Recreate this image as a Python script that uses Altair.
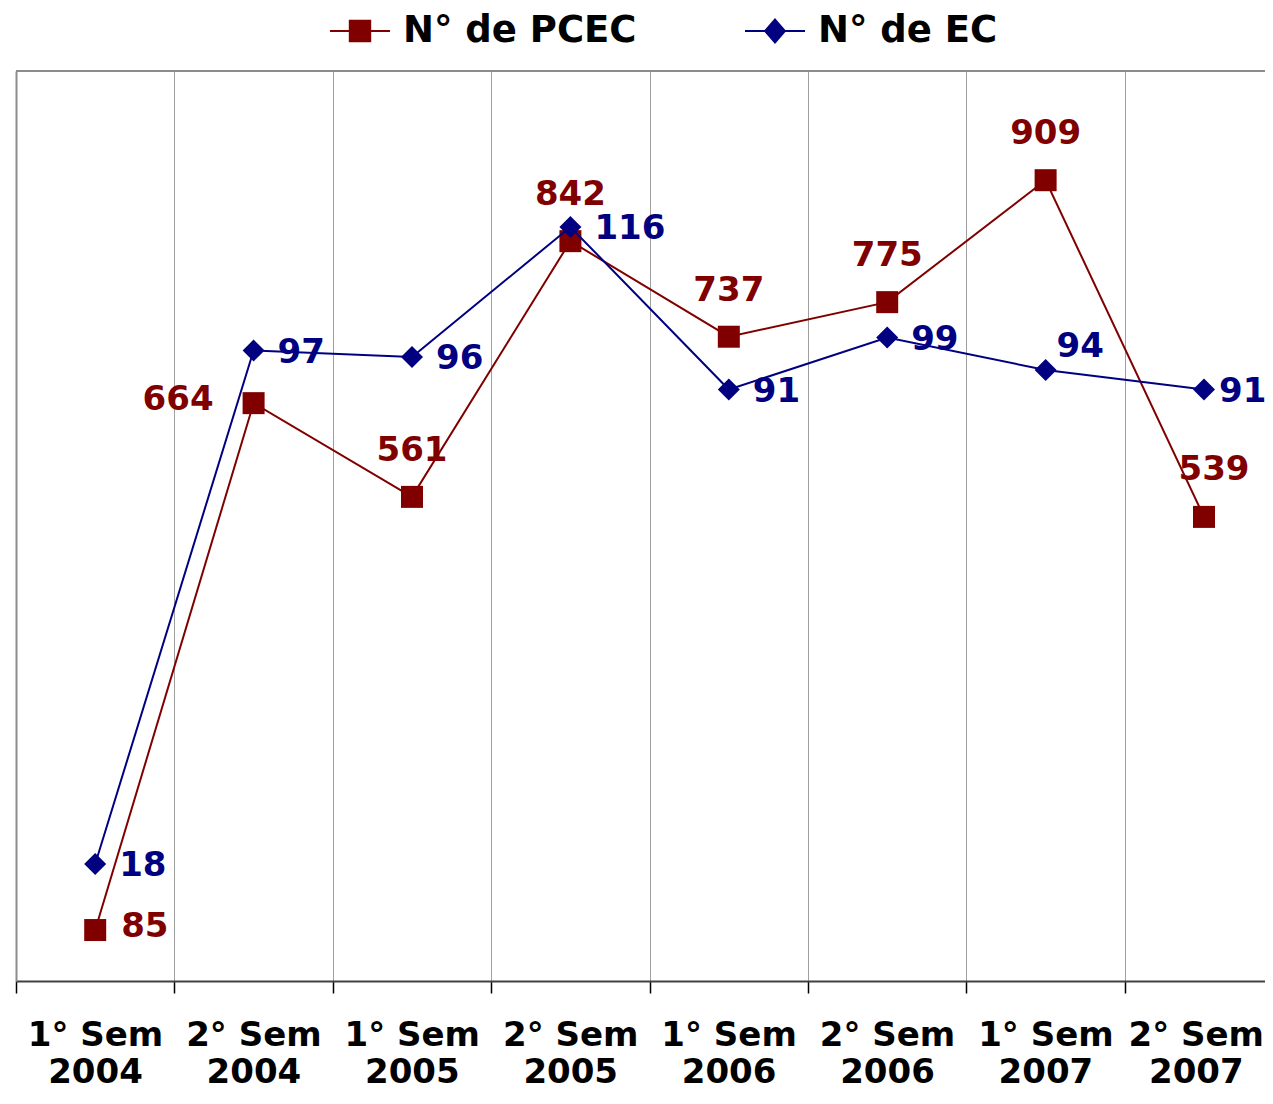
import json
import altair as alt
import pandas as pd

# ---- data ----
semestre = ["1° Sem", "2° Sem", "1° Sem", "2° Sem", "1° Sem", "2° Sem", "1° Sem", "2° Sem"]
ano = ["2004", "2004", "2005", "2005", "2006", "2006", "2007", "2007"]
pcec = [85, 664, 561, 842, 737, 775, 909, 539]
ec = [18, 97, 96, 116, 91, 99, 94, 91]
series = ["N° de PCEC", "N° de EC"]
colors = ["#800000", "#000080"]

df = pd.DataFrame({"idx": list(range(len(pcec))), "pcec": pcec, "ec": ec})
leg_df = pd.DataFrame({"serie": series})
frame_df = pd.DataFrame({"edge": ["top"]})

FONT = "DejaVu Sans"
BORDER = "#8c8c8c"
labels_arr = json.dumps([[s, a] for s, a in zip(semestre, ano)], ensure_ascii=False)
label_expr = f"{labels_arr}[round(datum.value + 0.5)]"

x_enc = alt.X(
    "idx:Q",
    scale=alt.Scale(domain=[-0.5, 7.385], nice=False, zero=False),
    axis=alt.Axis(
        values=[i - 0.5 for i in range(len(pcec))],
        title=None, grid=True, labelExpr=label_expr,
        labelOffset={"expr": "datum.value > 6 ? 71 : 79"},
        labelFlush=False, labelOverlap=False, labelBound=False,
        labelFont=FONT, labelFontSize=34, labelFontWeight="bold", labelColor="black",
        labelLineHeight=37, labelPadding=25, labelBaseline="top", labelAlign="center",
        tickSize=12, tickColor="black", tickWidth=1.5,
        domainColor="#404040", domainWidth=2, gridColor="#a0a0a0", gridWidth=1,
    ),
)
y_p = alt.Y("pcec:Q", scale=alt.Scale(domain=[29, 1029], nice=False, zero=False),
            axis=alt.Axis(title=None, labels=False, ticks=False, grid=False,
                          domain=True, domainColor=BORDER, domainWidth=2))
y_e = alt.Y("ec:Q", scale=alt.Scale(domain=[0, 140], nice=False, zero=False), axis=None)

base = alt.Chart(df)

top_border = alt.Chart(frame_df).mark_rule(color=BORDER, strokeWidth=2).encode(y=alt.value(0))

p_line = base.mark_line(color=colors[0], strokeWidth=2).encode(x=x_enc, y=y_p)
p_pts = base.mark_point(shape="square", filled=True, size=484, color=colors[0], opacity=1).encode(x=x_enc, y=y_p)
e_line = base.mark_line(color=colors[1], strokeWidth=2).encode(x=x_enc, y=y_e)
e_pts = base.mark_point(shape="diamond", filled=True, size=484, color=colors[1], opacity=1).encode(x=x_enc, y=y_e)

txt = dict(font=FONT, fontSize=34, fontWeight="bold", baseline="middle")


def sel(ids):
    return alt.FieldOneOfPredicate(field="idx", oneOf=ids)


p_lab_right = base.mark_text(color=colors[0], align="left", dx=26, dy=-3, **txt).encode(
    x=x_enc, y=y_p, text="pcec:Q").transform_filter(sel([0]))
p_lab_left = base.mark_text(color=colors[0], align="right", dx=-40, dy=-3, **txt).encode(
    x=x_enc, y=y_p, text="pcec:Q").transform_filter(sel([1]))
p_lab_top = base.mark_text(color=colors[0], align="center", dy=-46, **txt).encode(
    x=x_enc, y=y_p, text="pcec:Q").transform_filter(sel([2, 3, 4, 5, 6]))
p_lab_topr = base.mark_text(color=colors[0], align="center", dx=10, dy=-47, **txt).encode(
    x=x_enc, y=y_p, text="pcec:Q").transform_filter(sel([7]))

e_lab_right = base.mark_text(color=colors[1], align="left", dx=24, dy=2, **txt).encode(
    x=x_enc, y=y_e, text="ec:Q").transform_filter(sel([0, 1, 2, 3, 4, 5]))
e_lab_last = base.mark_text(color=colors[1], align="left", dx=15, dy=2, **txt).encode(
    x=x_enc, y=y_e, text="ec:Q").transform_filter(sel([7]))
e_lab_up = base.mark_text(color=colors[1], align="left", dx=11, dy=-23, **txt).encode(
    x=x_enc, y=y_e, text="ec:Q").transform_filter(sel([6]))

sq_path = "M-1,0H1M-0.34,-0.34H0.34V0.34H-0.34Z"
di_path = "M-1,0H1M0,-0.38L0.33,0L0,0.38L-0.33,0Z"

leg = alt.Legend(
    orient="none", legendX=313, legendY=-71, direction="horizontal", title=None,
    labelFont=FONT, labelFontSize=37, labelFontWeight="bold", labelColor="black",
    labelLimit=600,
    symbolSize=3600, symbolStrokeWidth=2, labelOffset=12, columnPadding=104,
    symbolOpacity=1,
)
legend_layer = alt.Chart(leg_df).mark_point(filled=True, opacity=1).encode(
    fill=alt.Fill("serie:N", scale=alt.Scale(domain=series, range=colors), legend=leg),
    stroke=alt.Stroke("serie:N", scale=alt.Scale(domain=series, range=colors), legend=leg),
    shape=alt.Shape("serie:N", scale=alt.Scale(domain=series, range=[sq_path, di_path]), legend=leg),
).transform_filter("false")

pcec_group = alt.layer(p_line, p_pts, p_lab_right, p_lab_left, p_lab_top, p_lab_topr)
ec_group = alt.layer(e_line, e_pts, e_lab_right, e_lab_last, e_lab_up)

chart = alt.layer(
    top_border, pcec_group, ec_group, legend_layer,
).resolve_scale(y="independent").properties(
    width=1249, height=910,
    autosize=alt.AutoSizeParams(type="none"),
    padding={"left": 8, "top": 63, "right": 0, "bottom": 111},
).configure_view(stroke="transparent", strokeWidth=0).configure(background="white")

chart.save("out.html", embed_options={"renderer": "svg", "actions": False})
